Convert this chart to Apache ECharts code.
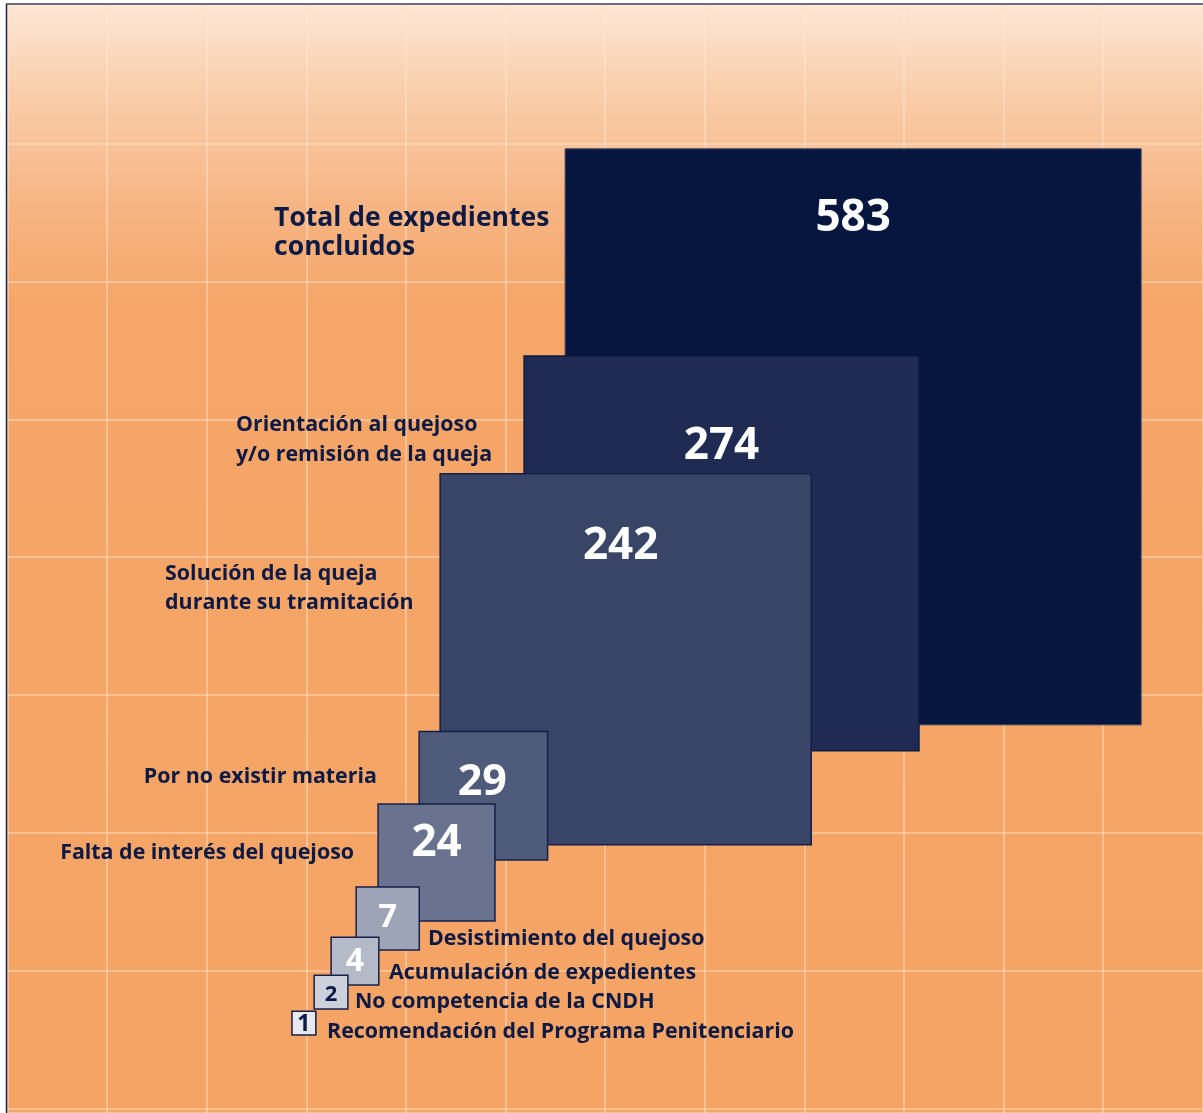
<!DOCTYPE html>
<html>
<head>
<meta charset="utf-8">
<script src="https://cdn.jsdelivr.net/npm/echarts@6/dist/echarts.min.js"></script>
<style>
html,body{margin:0;padding:0;background:#ffffff;}
#chart{width:1203px;height:1113px;}
</style>
</head>
<body>
<div id="chart"></div>
<script>
// ---- data ----
const categories = [
  'Total de expedientes\nconcluidos',
  'Orientación al quejoso\ny/o remisión de la queja',
  'Solución de la queja\ndurante su tramitación',
  'Por no existir materia',
  'Falta de interés del quejoso',
  'Desistimiento del quejoso',
  'Acumulación de expedientes',
  'No competencia de la CNDH',
  'Recomendación del Programa Penitenciario'
];
const values = [583, 274, 242, 29, 24, 7, 4, 2, 1];

// ---- layout (axis units: 1 unit = side of the square for a value of 1) ----
const squareLeft   = [23.69, 21.97, 18.45, 17.57, 15.85, 14.93, 13.88, 13.17, 12.24];
const squareBottom = [16.27, 15.18, 11.24, 10.61, 8.05, 6.83, 5.37, 4.36, 3.27];
const labelX = [11.49, 9.89, 6.92, 15.80, 14.84, 17.94, 16.31, 14.88, 13.71];
const labelY = [36.87, 28.21, 21.98, 14.08, 10.89, 7.30, 5.87, 4.66, 3.40];
const labelAlign = ['left', 'left', 'left', 'right', 'right', 'left', 'left', 'left', 'left'];
const labelSize = [26.5, 21.4, 21.4, 21.4, 21.4, 21.4, 21.4, 21.4, 21.4];
const labelLine = [29, 30, 29, 30, 30, 30, 30, 30, 30];
const valueDx = [0, 0, -5, -1, 0, 0, 0, 0, 0];
const valueDy = [70, 90, 73, 51, 39, 31, 25, 19, 13];
const valueSize = [44, 44, 44, 43, 44, 33, 32, 22, 23];

// ---- styles ----
const fills = ['#06163f', '#1f2b53', '#384566', '#4e5b7b', '#69738f', '#9ea4b7', '#b5bac8', '#cdd1dc', '#e8e9ef'];
const strokes = ['#3b4262', '#0f1a40', '#14204a', '#14204a', '#14204a', '#14204a', '#14204a', '#14204a', '#14204a'];
const valueColors = ['#ffffff', '#ffffff', '#ffffff', '#ffffff', '#ffffff', '#ffffff', '#ffffff', '#0d1a45', '#0d1a45'];
const navy = '#0d1a45';

const UNIT = 576 / Math.sqrt(583);
const W = 1203, H = 1113;
const GX = 99.6, GY = 137.8;

const chart = echarts.init(document.getElementById('chart'), null, {renderer: 'canvas'});

const option = {
  animation: false,
  backgroundColor: '#ffffff',
  graphic: {
    elements: [
      {
        type: 'rect', z: -100, silent: true,
        shape: {x: 7, y: 4, width: W - 7, height: H - 4},
        style: {
          fill: new echarts.graphic.LinearGradient(0, 0, 0, 1, [
            {offset: 0, color: '#fde6d4'},
            {offset: 0.09, color: '#f9cba6'},
            {offset: 0.18, color: '#f7b584'},
            {offset: 0.27, color: '#f5a668'},
            {offset: 1, color: '#f5a464'}
          ])
        }
      },
      {
        type: 'line', z: 100, silent: true,
        shape: {x1: 6.5, y1: 4, x2: 6.5, y2: H},
        style: {stroke: '#1a2352', lineWidth: 1.5}
      },
      {
        type: 'line', z: 100, silent: true,
        shape: {x1: 6, y1: 4, x2: W, y2: 4},
        style: {stroke: '#3a3f5c', lineWidth: 1.5}
      }
    ]
  },
  grid: [
    {left: 0, top: 0, width: W, height: H, containLabel: false},
    {left: 7.5, top: 6, width: W - 7.5, height: H - 6, containLabel: false}
  ],
  xAxis: [
    {type: 'value', gridIndex: 0, min: 0, max: W / UNIT, show: false},
    {type: 'value', gridIndex: 1, min: 0, max: (W - 7.5) / GX, interval: 1,
     axisLine: {show: false}, axisTick: {show: false}, axisLabel: {show: false},
     splitLine: {show: true, showMaxLine: false, lineStyle: {color: 'rgba(255,235,215,0.55)', width: 1.5}}}
  ],
  yAxis: [
    {type: 'value', gridIndex: 0, min: 0, max: H / UNIT, show: false},
    {type: 'value', gridIndex: 1, min: 0, max: (H - 6) / GY, interval: 1, inverse: true,
     axisLine: {show: false}, axisTick: {show: false}, axisLabel: {show: false},
     splitLine: {show: true, lineStyle: {color: 'rgba(255,235,215,0.55)', width: 1.5}}}
  ],
  series: [{
    type: 'custom',
    xAxisIndex: 0,
    yAxisIndex: 0,
    clip: false,
    data: values.map((v, i) => [squareLeft[i], squareBottom[i], v]),
    renderItem: function (params, api) {
      const i = params.dataIndex;
      const x0 = api.value(0), y0 = api.value(1), v = api.value(2);
      const side = Math.sqrt(v);
      const tl = api.coord([x0, y0 + side]);
      const sz = api.size([side, side]);
      const lp = api.coord([labelX[i], labelY[i]]);
      return {
        type: 'group',
        children: [
          {
            type: 'rect',
            shape: {x: tl[0], y: tl[1], width: sz[0], height: sz[1]},
            style: {fill: fills[i], stroke: strokes[i], lineWidth: i === 0 ? 1 : 1.5}
          },
          {
            type: 'text',
            x: tl[0] + sz[0] / 2 + valueDx[i],
            y: tl[1] + valueDy[i],
            style: {
              text: String(v),
              fill: valueColors[i],
              fontFamily: '"Open Sans", "Noto Sans", sans-serif',
              fontWeight: 'bold',
              fontSize: valueSize[i],
              align: 'center',
              verticalAlign: 'middle'
            }
          },
          {
            type: 'text',
            x: lp[0],
            y: lp[1],
            style: {
              text: categories[i],
              fill: navy,
              fontFamily: '"Open Sans", "Noto Sans", sans-serif',
              fontWeight: 'bold',
              fontSize: labelSize[i],
              lineHeight: labelLine[i],
              align: labelAlign[i],
              verticalAlign: 'middle'
            }
          }
        ]
      };
    }
  }]
};

chart.setOption(option);
</script>
</body>
</html>
